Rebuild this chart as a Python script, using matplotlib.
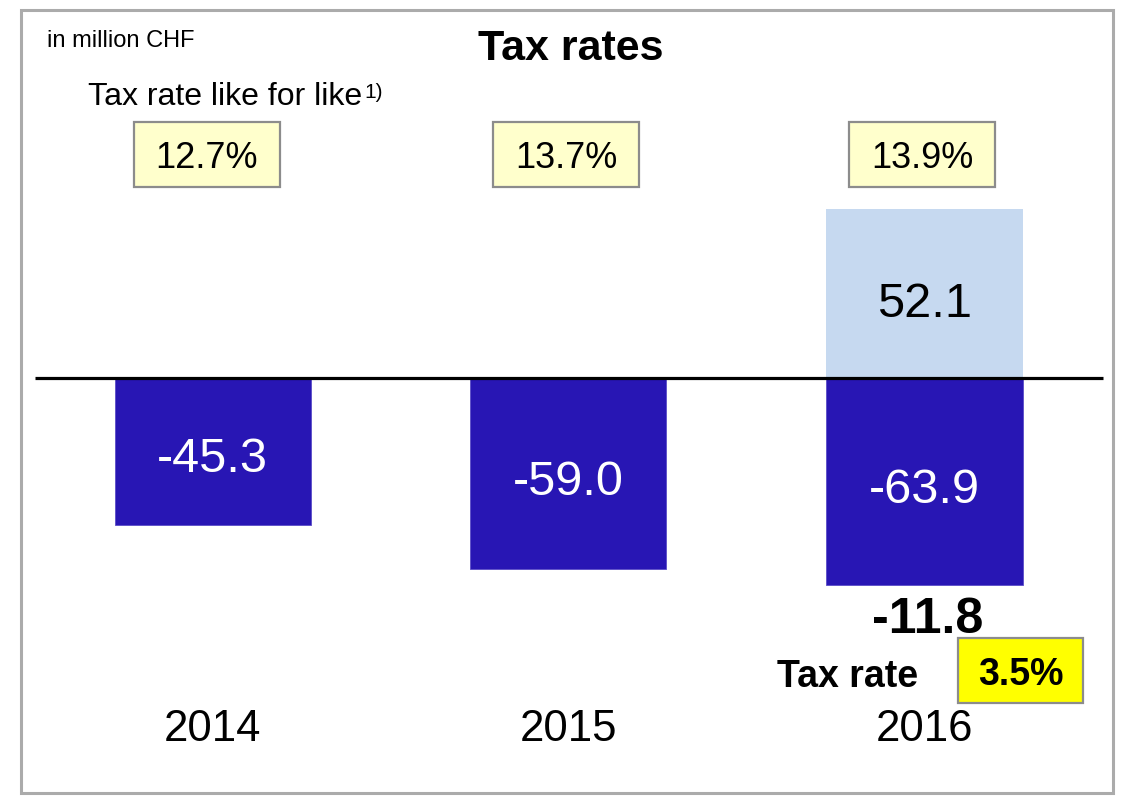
import matplotlib
matplotlib.use("Agg")
import matplotlib.pyplot as plt
from matplotlib.patches import Rectangle

plt.rcParams['font.family'] = ['Liberation Sans', 'DejaVu Sans']

# ---- data ----
years = ["2014", "2015", "2016"]
tax_expense = [-45.3, -59.0, -63.9]
one_off_income = [0.0, 0.0, 52.1]
like_for_like_rates = ["12.7%", "13.7%", "13.9%"]
net_2016 = -11.8
tax_rate_2016 = "3.5%"

W, H = 1122, 798
fig = plt.figure(figsize=(W / 100, H / 100), dpi=100)
ax = fig.add_axes([0, 0, 1, 1])
ax.axis('off')

# axis scaling so that bars land where they do in the reference
PX_PER_UNIT = 3.245
Y0 = 378.0
SPACING = 356.0
X0 = 212.5
ax.set_xlim(-X0 / SPACING, (W - X0) / SPACING)
ax.set_ylim(-(H - Y0) / PX_PER_UNIT, Y0 / PX_PER_UNIT)


def fx(px):
    return px / W


def fy(py):
    return 1 - py / H


dark = "#2816B4"
light = "#C6D9F0"
xs = list(range(len(years)))
bw = 196 / SPACING

ax.bar(xs, one_off_income, width=bw, color=light, zorder=2)
ax.bar(xs, tax_expense, width=bw, color=dark, edgecolor="#5a4cc8", linewidth=0.6, zorder=2)

# zero line
ax.plot([fx(35), fx(1103)], [fy(378), fy(378)], transform=fig.transFigure,
        color="black", lw=2.3, zorder=3, solid_capstyle='butt')

# bar labels (baseline slightly below bar middle)
shift = 21 / PX_PER_UNIT
for x, v in zip(xs, tax_expense):
    ax.text(x, v / 2 - shift, f"{v:.1f}", ha='center', va='baseline',
            color='white', fontsize=35, zorder=4)
for x, v in zip(xs, one_off_income):
    if v > 0:
        ax.text(x, v / 2 - shift - 3 / PX_PER_UNIT, f"{v:.1f}", ha='center',
                va='baseline', color='black', fontsize=35, zorder=4)

# year labels
for x, y in zip(xs, years):
    ax.text(x, -(741 - Y0) / PX_PER_UNIT, y, ha='center', va='baseline',
            fontsize=31.5, color='black')

# like-for-like boxes
box_centers = [207, 566, 922]
for cx, r in zip(box_centers, like_for_like_rates):
    fig.patches.append(Rectangle((fx(cx - 73), fy(187)), 146 / W, 65 / H,
                                 transform=fig.transFigure, facecolor="#FFFFCC",
                                 edgecolor="#8C8C8C", lw=1.6, zorder=1))
    fig.text(fx(cx), fy(168.5), r, ha='center', va='baseline', fontsize=26)

# title & annotations
fig.text(fx(571), fy(60), "Tax rates", ha='center', va='baseline',
         fontsize=31, fontweight='bold')
fig.text(fx(47), fy(47), "in million CHF", ha='left', va='baseline', fontsize=17)
t = fig.text(fx(88), fy(105), "Tax rate like for like", ha='left', va='baseline',
             fontsize=23)
ax.annotate("1)", xy=(1, 1), xycoords=t, xytext=(1.5, -1), textcoords='offset points',
            ha='left', va='top', fontsize=15)

# 2016 net & tax rate
fig.text(fx(928), fy(633), f"{net_2016:.1f}", ha='center', va='baseline',
         fontsize=36, fontweight='bold')
fig.text(fx(847.5), fy(687), "Tax rate", ha='center', va='baseline',
         fontsize=27, fontweight='bold')
fig.patches.append(Rectangle((fx(958), fy(703)), 125 / W, 65 / H,
                             transform=fig.transFigure, facecolor="#FFFF00",
                             edgecolor="#8C8C8C", lw=1.6, zorder=1))
fig.text(fx(1020.5), fy(685), tax_rate_2016, ha='center', va='baseline',
         fontsize=27, fontweight='bold')

# outer frame
fig.patches.append(Rectangle((fx(21), fy(793)), (1113 - 21) / W, (793 - 10) / H,
                             transform=fig.transFigure, facecolor='none',
                             edgecolor="#ABABAB", lw=2.2, zorder=0))

fig.savefig("out.png", dpi=100)
